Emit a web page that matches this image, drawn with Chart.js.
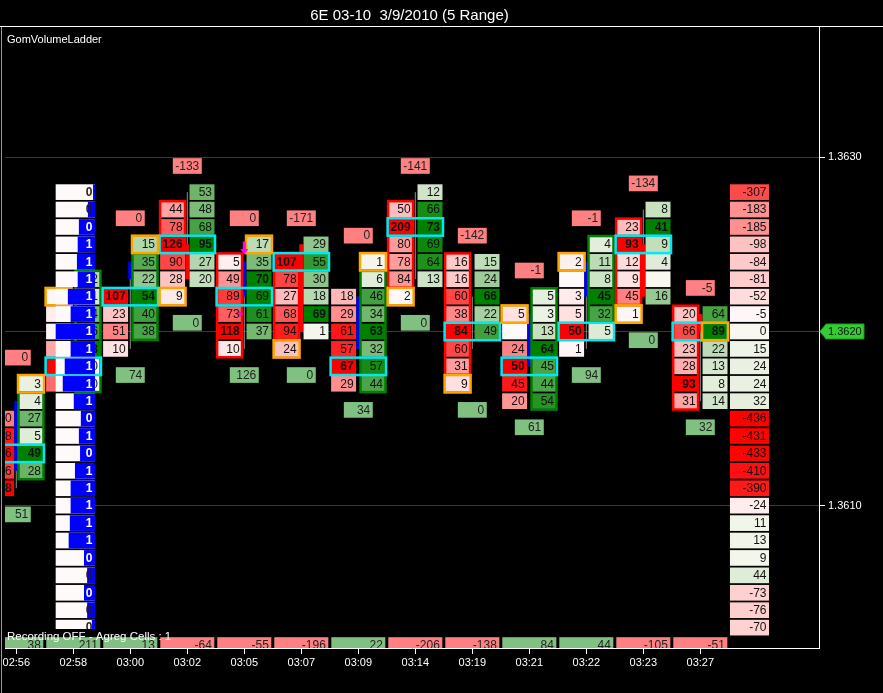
<!DOCTYPE html>
<html>
<head>
<meta charset="utf-8">
<script src="https://cdn.jsdelivr.net/npm/chart.js@4.4.0/dist/chart.umd.min.js"></script>
<style>
  html, body { margin: 0; padding: 0; background: #000; }
  canvas { display: block; }
</style>
</head>
<body>
<canvas id="ladder" width="883" height="693"></canvas>
<script>
const FONT = 'Arial, "Liberation Sans", sans-serif';
const TICK = 0.0001;

// bars (5 range), one per time label
const times = ["02:56", "02:58", "03:00", "03:02", "03:05", "03:07", "03:09", "03:14", "03:19", "03:21", "03:22", "03:23", "03:27"];

// bid volume per price, listed from the top price down
const bidTop = [1.3615, 1.3622, 1.3622, 1.3627, 1.3624, 1.3624, 1.3622, 1.3627, 1.3624, 1.3621, 1.3624, 1.3626, 1.3621];
const bidVol = [
  [50, 88, 96, 76, 98],
  [1, 3, 1, 20, 61, 35],
  [107, 23, 51, 10],
  [44, 78, 126, 90, 28, 9],
  [5, 49, 89, 73, 118, 10],
  [107, 78, 27, 68, 94, 24],
  [18, 29, 61, 57, 67, 29],
  [50, 209, 80, 78, 84, 2],
  [16, 16, 60, 38, 84, 60, 31, 9],
  [5, null, 24, 50, 45, 20],
  [2, null, 3, 5, 50, 1],
  [23, 93, 12, 9, 45, 1],
  [20, 66, 23, 28, 93, 31]
];

// ask volume per price, listed from the top price down
const askTop = [1.3617, 1.3623, 1.3625, 1.3628, 1.3625, 1.3625, 1.3624, 1.3628, 1.3624, 1.3622, 1.3625, 1.3627, 1.3621];
const askVol = [
  [3, 4, 27, 5, 49, 28],
  [2, 1, 4, 6, 8, 0, 0],
  [15, 35, 22, 54, 40, 38],
  [53, 48, 68, 95, 27, 20],
  [17, 35, 70, 69, 61, 37],
  [29, 55, 30, 18, 69, 1],
  [1, 6, 46, 34, 63, 32, 57, 44],
  [12, 66, 73, 69, 64, 13],
  [15, 24, 66, 22, 49],
  [5, 3, 13, 64, 45, 44, 54],
  [4, 11, 8, 45, 32, 5],
  [8, 41, 9, 4, null, 16],
  [64, 89, 22, 13, 8, 14]
];

// delta shown above the high, below the low, and per bar at the bottom
const highDelta = [0, null, 0, -133, 0, -171, 0, -141, -142, -1, -1, -134, -5];
const lowDelta = [51, null, 74, 0, 126, 0, 34, 0, 0, 61, 94, 0, 32];
const barDelta = [38, 211, 13, -64, -55, -196, 22, -206, -138, 84, 44, -105, -51];

// candles
const openP = [1.3612, null, 1.3623, 1.3625, 1.3622, 1.3625, 1.3619, 1.3623, 1.3622, 1.3618, 1.3622, 1.3625, 1.3621];
const closeP = [1.3616, null, 1.3624, 1.3623, 1.3624, 1.3620, 1.3622, 1.3623, 1.3622, 1.3621, 1.3624, 1.3622, 1.3620];
const highP = [1.3616, null, 1.3624, 1.3628, 1.3624, 1.3625, 1.3622, 1.3628, 1.3622, 1.3621, 1.3624, 1.3627, 1.3621];
const lowP = [1.3611, null, 1.3619, 1.3623, 1.3619, 1.3620, 1.3619, 1.3623, 1.3619, 1.3618, 1.3619, 1.3622, 1.3616];

// highlighted rows / cells
const pocPrice = [1.3613, 1.3618, 1.3622, 1.3625, 1.3622, 1.3624, 1.3618, 1.3626, 1.3620, 1.3618, 1.3620, 1.3625, 1.3620];
const markSide = ["ask", "bid", "ask", "bid", "ask", "bid", "ask", "bid", "bid", "bid", "bid", "bid", "ask"];
const markPrice = [1.3617, 1.3622, 1.3625, 1.3622, 1.3625, 1.3619, 1.3624, 1.3622, 1.3617, 1.3621, 1.3624, 1.3621, 1.3620];
const boxSide = ["ask", "ask", "ask", "bid", "bid", "bid", "ask", "bid", "bid", "ask", "ask", "bid", "bid"];
const boxHigh = [1.3616, 1.3623, 1.3624, 1.3627, 1.3624, 1.3624, 1.3623, 1.3627, 1.3624, 1.3622, 1.3625, 1.3626, 1.3621];
const boxLow = [1.3612, 1.3617, 1.3620, 1.3625, 1.3619, 1.3620, 1.3617, 1.3623, 1.3618, 1.3616, 1.3621, 1.3622, 1.3616];

// signal markers
const signalBar = [4, 4];
const signalPrice = [1.36248, 1.36210];
const signalType = ["down", "right"];

// session profile (bid-ask) on the right
const profileTop = 1.3628;
const profileDelta = [-307, -183, -185, -98, -84, -81, -52, -5, 0, 15, 24, 24, 32, -436, -431, -433, -410, -390, -24, 11, 13, 9, 44, -73, -76, -70];

// ladder on the 02:58 bar
const ladderBar = 1;
const ladderTop = 1.3628;
const ladderCount = [0, 0, 0, 1, 1, 1, 1, 1, 1, 1, 1, 1, 1, 0, 1, 0, 1, 1, 1, 1, 1, 0, 0, 0, 0, 0];
const ladderPct = [5, 18, 41, 44, 46, 44, 69, 62, 100, 62, 77, 82, 54, 36, 41, 38, 51, 62, 62, 64, 67, 28, 20, 28, 20, 8];

const priceTicks = [1.3610, 1.3620, 1.3630];
const lastPrice = 1.3620;

function bidColor(f) {
  const c = Math.round(250 * (1 - f));
  return `rgb(255,${c},${c})`;
}
function askColor(f) {
  return `rgb(${Math.round(248 * (1 - f))},${Math.round(248 - 120 * f)},${Math.round(240 * (1 - f))})`;
}

const BID = [-0.477, -0.039], ASK = [0.039, 0.477];

const ladderPlugin = {
  id: 'gomLadder',
  beforeDraw(chart) {
    const c = chart.ctx;
    c.save();
    c.fillStyle = '#000';
    c.fillRect(0, 0, chart.width, chart.height);
    c.restore();
  },
  afterDatasetsDraw(chart) {
    const { ctx, chartArea: a } = chart;
    const xs = chart.scales.x, ys = chart.scales.y;
    const X = v => xs.getPixelForValue(v);
    const Y = v => ys.getPixelForValue(v);
    const rect = (x0, x1, p, half = 0.45) => {
      const l = X(x0), r = X(x1), t = Y(p + half * TICK), b = Y(p - half * TICK);
      return { l, t, w: r - l, h: b - t };
    };
    const label = (rc, txt, bold, color) => {
      ctx.font = (bold ? 'bold ' : '') + '12px ' + FONT;
      ctx.fillStyle = color || '#111';
      ctx.textAlign = 'right';
      ctx.textBaseline = 'middle';
      ctx.fillText(txt, rc.l + rc.w - 2.5, rc.t + rc.h / 2 + 0.5);
    };
    const cell = (rc, fill, txt, bold, color) => {
      ctx.fillStyle = fill;
      ctx.fillRect(rc.l, rc.t, rc.w, rc.h);
      if (txt !== null && txt !== undefined) label(rc, String(txt), bold, color);
    };
    const frame = (l, t, r, b, color) => {
      ctx.strokeStyle = color;
      ctx.lineWidth = 2.5;
      ctx.strokeRect(l, t, r - l, b - t);
    };

    ctx.save();
    ctx.beginPath();
    ctx.rect(a.left, a.top, a.right - a.left, a.bottom - a.top);
    ctx.clip();

    // bar delta totals along the bottom
    barDelta.forEach((v, i) => {
      cell(rect(i - 0.474, i + 0.474, 1.3602), v < 0 ? '#ff8080' : '#80c080', v, false, '#222');
    });

    // candles
    times.forEach((t, i) => {
      if (highP[i] === null) return;
      ctx.fillStyle = '#8c8c8c';
      ctx.fillRect(X(i) - 0.5, Y(highP[i]), 1, Y(lowP[i]) - Y(highP[i]));
      if (openP[i] !== closeP[i]) {
        const top = Math.max(openP[i], closeP[i]), bot = Math.min(openP[i], closeP[i]);
        ctx.fillStyle = closeP[i] > openP[i] ? '#0000ff' : '#ff0000';
        ctx.fillRect(X(i) - 2, Y(top), 4, Y(bot) - Y(top));
      }
    });

    // bid / ask cells
    times.forEach((t, i) => {
      const bMax = Math.max(...bidVol[i].filter(v => v !== null));
      bidVol[i].forEach((v, k) => {
        const f = v === null ? 0 : v / bMax;
        cell(rect(i + BID[0], i + BID[1], bidTop[i] - k * TICK), bidColor(f), v, v === bMax);
      });
      const aMax = Math.max(...askVol[i].filter(v => v !== null));
      askVol[i].forEach((v, k) => {
        const f = v === null ? 0 : v / aMax;
        cell(rect(i + ASK[0], i + ASK[1], askTop[i] - k * TICK), askColor(f), v, v === aMax);
      });
    });

    // body boxes, POC rows, open/close cells
    times.forEach((t, i) => {
      const col = boxSide[i] === 'bid' ? BID : ASK;
      frame(X(i + col[0]), Y(boxHigh[i] + 0.48 * TICK), X(i + col[1]), Y(boxLow[i] - 0.48 * TICK),
        boxSide[i] === 'bid' ? '#ff0000' : '#007f00');
    });
    times.forEach((t, i) => {
      frame(X(i + BID[0]) - 0.5, Y(pocPrice[i] + 0.5 * TICK), X(i + ASK[1]) + 0.5, Y(pocPrice[i] - 0.5 * TICK), '#00e8f0');
    });
    times.forEach((t, i) => {
      const col = markSide[i] === 'bid' ? BID : ASK;
      frame(X(i + col[0]) - 0.5, Y(markPrice[i] + 0.5 * TICK), X(i + col[1]) + 0.5, Y(markPrice[i] - 0.5 * TICK), '#ffa500');
    });

    // deltas above the high / below the low
    times.forEach((t, i) => {
      const hi = Math.max(bidTop[i], askTop[i]);
      const lo = Math.min(bidTop[i] - (bidVol[i].length - 1) * TICK, askTop[i] - (askVol[i].length - 1) * TICK);
      if (highDelta[i] !== null) cell(rect(i - 0.254, i + 0.254, hi + 1.5 * TICK), '#ff8080', highDelta[i], false, '#222');
      if (lowDelta[i] !== null) cell(rect(i - 0.254, i + 0.254, lo - 1.5 * TICK), '#80c080', lowDelta[i], false, '#222');
    });

    // profile column
    const pMax = Math.max(...profileDelta.map(Math.abs));
    profileDelta.forEach((v, k) => {
      const f = Math.abs(v) / pMax;
      cell(rect(12.52, 13.205, profileTop - k * TICK), v < 0 ? bidColor(f) : askColor(f), v, false);
    });

    // ladder
    ladderCount.forEach((n, k) => {
      const rc = rect(ladderBar - 0.309, ladderBar + 0.381, ladderTop - k * TICK);
      ctx.fillStyle = '#fffafa';
      ctx.fillRect(rc.l, rc.t, rc.w, rc.h);
      const bw = rc.w * ladderPct[k] / 100;
      ctx.fillStyle = '#0000ff';
      ctx.fillRect(rc.l + rc.w - bw, rc.t, bw, rc.h);
      label(rc, String(n), true, ladderPct[k] > 25 ? '#ffffff' : '#2a1a10');
    });

    // signals
    ctx.fillStyle = '#ff00ff';
    signalBar.forEach((b, k) => {
      const cx = X(b), cy = Y(signalPrice[k]);
      ctx.beginPath();
      if (signalType[k] === 'down') {
        ctx.fillRect(cx - 1.5, cy - 6.5, 3, 8);
        ctx.moveTo(cx - 4, cy + 1);
        ctx.lineTo(cx + 4, cy + 1);
        ctx.lineTo(cx, cy + 6.5);
      } else {
        ctx.moveTo(cx - 5.5, cy - 3.5);
        ctx.lineTo(cx - 5.5, cy + 3.5);
        ctx.lineTo(cx - 1.5, cy);
      }
      ctx.closePath();
      ctx.fill();
    });

    // status text
    ctx.font = '11.5px ' + FONT;
    ctx.textAlign = 'left';
    ctx.textBaseline = 'alphabetic';
    const msg = 'Recording OFF - Agreg Cells : 1';
    const mw = ctx.measureText(msg).width;
    ctx.fillStyle = '#000';
    ctx.fillRect(a.left, a.bottom - 19, mw + 3, 8);
    ctx.fillStyle = '#fff';
    ctx.fillText(msg, a.left + 2, a.bottom - 8);

    ctx.restore();
  },
  afterDraw(chart) {
    const { ctx, chartArea: a } = chart;
    const ys = chart.scales.y;
    ctx.save();
    // title
    ctx.fillStyle = '#fff';
    ctx.font = '15px ' + FONT;
    ctx.textAlign = 'center';
    ctx.textBaseline = 'alphabetic';
    ctx.fillText('6E 03-10  3/9/2010 (5 Range)', a.right / 2, 19.5);
    ctx.strokeStyle = '#fff';
    ctx.lineWidth = 1;
    ctx.beginPath();
    ctx.moveTo(0, a.top - 0.5);
    ctx.lineTo(chart.width, a.top - 0.5);
    ctx.stroke();
    ctx.strokeStyle = '#9a9a9a';
    ctx.beginPath();
    ctx.moveTo(1.5, a.top);
    ctx.lineTo(1.5, chart.height);
    ctx.stroke();
    ctx.font = '11px ' + FONT;
    ctx.textAlign = 'left';
    ctx.fillText('GomVolumeLadder', 7, a.top + 16);

    // last price marker
    const py = ys.getPixelForValue(lastPrice), x0 = a.right + 1;
    ctx.beginPath();
    ctx.moveTo(x0, py);
    ctx.lineTo(x0 + 6, py - 7.5);
    ctx.lineTo(x0 + 44, py - 7.5);
    ctx.lineTo(x0 + 44, py + 7.5);
    ctx.lineTo(x0 + 6, py + 7.5);
    ctx.closePath();
    ctx.fillStyle = '#33cc33';
    ctx.fill();
    ctx.strokeStyle = '#1f9a1f';
    ctx.stroke();
    ctx.fillStyle = '#111';
    ctx.font = '11px ' + FONT;
    ctx.textBaseline = 'middle';
    ctx.fillText(lastPrice.toFixed(4), x0 + 8, py + 0.5);
    ctx.restore();
  }
};

Chart.defaults.font.family = FONT;
Chart.defaults.color = '#fff';

new Chart(document.getElementById('ladder'), {
  type: 'scatter',
  data: { datasets: [{ data: [] }] },
  options: {
    responsive: false,
    animation: false,
    layout: { padding: { left: 5, top: 27, right: 0, bottom: 0 } },
    plugins: { legend: { display: false }, tooltip: { enabled: false }, title: { display: false } },
    scales: {
      x: {
        type: 'linear',
        position: 'bottom',
        min: -0.198,
        max: 14.082,
        afterBuildTicks: s => { s.ticks = times.map((t, i) => ({ value: i })); },
        afterFit: s => { s.height = 45; s.paddingLeft = 0; s.paddingRight = 0; },
        ticks: {
          color: '#fff',
          font: { size: 11 },
          autoSkip: false,
          maxRotation: 0,
          padding: 2,
          callback: (v, i) => times[i]
        },
        grid: { drawOnChartArea: false, drawTicks: true, tickLength: 6, tickColor: '#fff' },
        border: { color: '#fff' }
      },
      y: {
        type: 'linear',
        position: 'right',
        min: 1.360183,
        max: 1.363748,
        afterBuildTicks: s => { s.ticks = priceTicks.map(v => ({ value: v })); },
        afterFit: s => { s.width = 64; s.paddingTop = 0; s.paddingBottom = 0; },
        ticks: {
          color: '#fff',
          font: { size: 11 },
          padding: 3,
          callback: v => v.toFixed(4)
        },
        grid: { color: '#3a3a3a', tickColor: '#fff', tickLength: 6 },
        border: { color: '#fff' }
      }
    }
  },
  plugins: [ladderPlugin]
});
</script>
</body>
</html>
